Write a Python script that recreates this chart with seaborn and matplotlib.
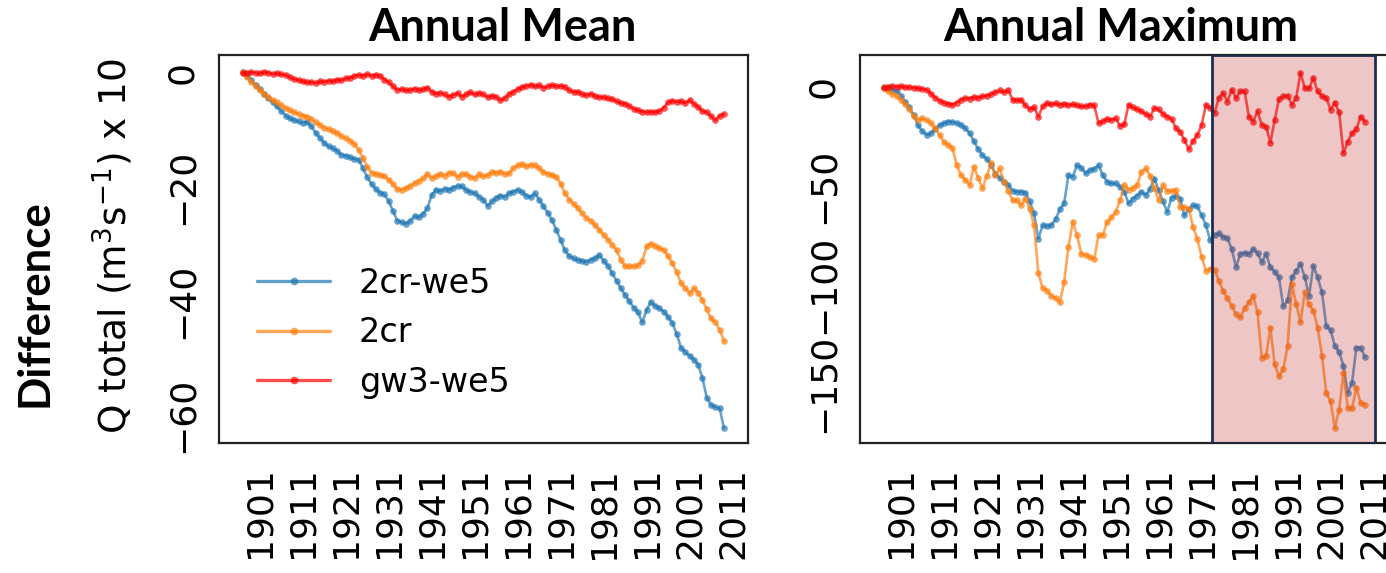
import numpy as np
import pandas as pd
import matplotlib
matplotlib.use("Agg")
import matplotlib.pyplot as plt
import seaborn as sns
from matplotlib.lines import Line2D
from matplotlib.ticker import MultipleLocator

# ---------------- data ----------------
years = list(range(1897, 2010))
series_names = ["2cr-we5", "2cr", "gw3-we5"]
xtick_years = list(range(1901, 2012, 10))

# Annual mean differences
mean_2cr_we5 = [
    0.0, -0.6, -1.4, -2.2, -3.0, -3.8, -4.6, -5.3, -6.0, -6.8,
    -7.6, -8.1, -8.4, -8.6, -8.9, -8.7, -9.5, -10.6, -11.5, -12.4,
    -13.0, -13.3, -13.8, -14.5, -14.6, -14.9, -15.2, -15.3, -16.8, -18.4,
    -19.6, -20.5, -21.1, -21.4, -22.6, -24.3, -26.0, -26.3, -26.5, -26.0,
    -25.2, -25.4, -24.8, -23.8, -21.5, -20.6, -20.8, -20.4, -20.6, -20.2,
    -19.9, -20.0, -20.6, -21.0, -21.2, -21.8, -22.3, -23.4, -22.6, -22.0,
    -21.6, -21.8, -21.2, -20.9, -20.6, -21.0, -21.6, -21.9, -21.2, -22.3,
    -23.5, -24.6, -25.9, -27.6, -29.4, -31.2, -32.2, -32.6, -32.9, -33.0,
    -33.2, -32.8, -32.6, -32.0, -33.0, -33.9, -35.2, -36.5, -37.8, -39.0,
    -40.1, -41.2, -42.0, -43.8, -41.6, -40.2, -40.9, -41.3, -41.9, -42.8,
    -43.9, -45.8, -48.2, -49.0, -49.6, -50.3, -51.2, -53.5, -57.0, -58.2,
    -58.6, -58.8, -62.3,
]
mean_2cr = [
    0.0, -0.8, -1.7, -2.5, -3.2, -3.8, -4.4, -4.9, -5.3, -5.8,
    -6.3, -6.7, -7.0, -7.3, -7.6, -7.8, -8.2, -8.8, -9.3, -9.7,
    -10.0, -10.3, -10.6, -11.2, -11.6, -12.0, -12.6, -13.6, -15.0, -16.6,
    -17.6, -17.8, -18.0, -18.2, -18.8, -19.6, -20.5, -20.6, -20.3, -19.9,
    -19.4, -19.0, -18.6, -17.8, -18.5, -18.2, -17.8, -18.1, -17.6, -17.7,
    -18.3, -17.8, -17.9, -18.3, -18.5, -17.9, -18.2, -18.0, -17.4, -17.6,
    -17.4, -17.8, -17.7, -16.8, -16.3, -16.1, -16.5, -16.2, -16.3, -16.8,
    -17.5, -17.8, -18.0, -18.3, -19.5, -21.2, -22.3, -23.0, -23.8, -24.7,
    -25.5, -26.0, -26.8, -27.6, -28.5, -29.3, -30.2, -31.2, -32.8, -34.0,
    -34.0, -34.0, -33.8, -33.0, -30.5, -30.0, -30.4, -30.8, -31.1, -32.2,
    -33.4, -35.0, -36.9, -37.8, -38.7, -37.8, -38.6, -39.9, -41.5, -43.1,
    -43.8, -45.1, -47.0,
]
mean_gw3_we5 = [
    -0.2, -0.1, 0.0, -0.1, -0.2, 0.0, -0.1, -0.3, -0.2, -0.4,
    -0.5, -0.9, -1.2, -1.4, -1.6, -1.8, -1.7, -1.9, -1.6, -1.7,
    -1.5, -1.6, -1.3, -1.4, -1.1, -1.0, -0.7, -0.5, -0.6, -0.4,
    -0.6, -0.5, -0.6, -1.3, -1.8, -2.5, -3.1, -3.0, -3.2, -3.1,
    -2.9, -3.1, -3.0, -2.7, -3.4, -3.8, -3.6, -3.9, -4.3, -4.0,
    -3.7, -4.3, -3.9, -3.5, -3.9, -3.7, -3.9, -4.4, -4.1, -4.3,
    -4.9, -4.5, -3.9, -3.4, -3.0, -2.6, -2.4, -2.2, -2.5, -2.3,
    -2.7, -2.5, -2.3, -2.5, -2.4, -2.6, -3.2, -3.5, -3.4, -3.8,
    -4.0, -3.8, -4.2, -4.4, -4.4, -4.6, -4.7, -5.1, -5.4, -5.5,
    -5.9, -6.4, -6.7, -6.9, -7.0, -6.9, -7.0, -6.8, -6.2, -5.3,
    -5.0, -5.2, -5.1, -5.4, -4.9, -5.5, -6.1, -6.8, -7.0, -7.7,
    -8.4, -7.6, -7.3,
]

# Annual maximum differences
max_2cr_we5 = [
    0.0, -0.8, -1.5, -2.4, -4.5, -7.5, -10.5, -14.5, -19.5, -22.5,
    -24.4, -23.5, -21.5, -19.5, -18.5, -17.6, -17.8, -18.4, -19.5, -21.0,
    -23.5, -27.5, -31.5, -34.5, -36.5, -39.5, -44.0, -46.0, -48.0, -49.5,
    -52.5, -53.1, -53.0, -53.5, -58.0, -64.0, -76.8, -70.0, -70.5, -70.0,
    -67.0, -62.0, -59.0, -44.7, -45.5, -39.6, -41.0, -43.8, -42.1, -41.5,
    -39.6, -44.7, -48.0, -48.9, -48.9, -50.5, -53.0, -59.0, -56.5, -55.0,
    -53.1, -54.8, -51.5, -46.4, -52.3, -58.0, -63.3, -56.0, -55.0, -56.5,
    -65.0, -62.0, -59.9, -60.5, -65.0, -70.0, -77.7, -75.0, -74.0, -76.0,
    -76.5, -82.0, -91.2, -84.4, -84.0, -84.5, -82.0, -84.0, -88.7, -84.4,
    -91.2, -93.5, -96.3, -111.0, -108.0, -96.3, -93.0, -89.5, -96.3, -105.6,
    -90.4, -96.3, -103.9, -120.8, -123.0, -131.0, -134.0, -141.0, -154.7, -149.6,
    -131.8, -132.0, -136.5,
]
max_2cr = [
    0.0, -2.4, -3.5, -4.8, -6.5, -9.0, -11.5, -15.0, -16.8, -15.9,
    -17.0, -18.4, -21.0, -24.4, -27.8, -29.5, -31.0, -39.6, -44.7, -47.0,
    -49.7, -40.5, -46.0, -51.4, -45.0, -38.7, -44.7, -41.3, -48.1, -52.5,
    -57.4, -57.5, -59.9, -56.5, -61.6, -70.0, -94.3, -101.7, -103.0, -105.6,
    -107.0, -109.0, -98.8, -81.1, -68.4, -75.1, -84.4, -85.0, -86.1, -87.0,
    -75.1, -75.0, -68.4, -66.0, -63.3, -57.4, -49.7, -52.0, -51.0, -49.7,
    -43.0, -41.3, -45.0, -51.4, -57.4, -49.7, -52.5, -52.5, -52.3, -60.8,
    -61.0, -61.6, -70.9, -76.8, -86.1, -92.9, -92.0, -92.5, -98.0, -103.0,
    -107.0, -110.7, -114.9, -116.6, -112.0, -109.0, -105.6, -114.0, -136.9, -136.0,
    -121.7, -140.3, -146.2, -142.8, -131.0, -99.6, -109.8, -119.1, -103.9, -110.0,
    -113.2, -121.7, -136.0, -154.7, -158.9, -172.4, -163.1, -144.5, -162.3, -162.5,
    -152.1, -159.8, -160.6,
]
max_gw3_we5 = [
    -0.7, 0.0, 0.3, 0.0, 0.2, -0.3, -0.2, -0.5, -0.8, -1.2,
    -1.5, -3.5, -5.5, -7.0, -8.0, -8.6, -9.1, -8.0, -6.5, -5.8,
    -6.0, -5.2, -5.5, -4.9, -4.5, -3.8, -2.8, -1.9, -2.8, -1.5,
    -6.6, -6.8, -6.6, -9.5, -11.3, -10.5, -15.1, -10.0, -8.3, -9.0,
    -8.5, -9.1, -8.6, -9.3, -9.0, -9.5, -10.0, -10.0, -9.1, -9.5,
    -18.4, -17.5, -16.2, -16.8, -15.9, -19.8, -19.0, -9.1, -10.5, -11.5,
    -12.5, -13.8, -15.1, -10.8, -11.5, -13.8, -15.1, -16.2, -21.0, -22.7,
    -27.0, -31.5, -27.5, -24.4, -19.3, -9.1, -10.8, -13.4, -5.7, -3.2,
    -7.5, -1.5, -5.7, -2.4, -2.4, -15.1, -17.6, -12.5, -19.3, -20.2,
    -28.3, -16.8, -6.3, -4.9, -4.5, -9.1, -5.7, 7.0, -0.7, -0.8,
    4.4, -2.4, -4.9, -5.5, -11.7, -8.0, -13.0, -33.7, -27.8, -23.5,
    -21.5, -15.1, -17.6,
]

highlight_span = (1973.4, 2011.4)

# ---------------- style ----------------
sns.set_style("white")
plt.rcParams["font.family"] = ["DejaVu Sans"]
plt.rcParams["axes.unicode_minus"] = True
plt.rcParams["text.color"] = "black"
plt.rcParams["axes.labelcolor"] = "black"
plt.rcParams["xtick.color"] = "black"
plt.rcParams["ytick.color"] = "black"

palette = {"2cr-we5": "#1f77b4", "2cr": "#ff7f0e", "gw3-we5": "#ff0000"}
SPINE = "#222222"
TICK_FS = 26

W, H = 1386, 573
fig = plt.figure(figsize=(W / 100, H / 100), dpi=100)
ax1 = fig.add_axes([219 / W, 1 - 443 / H, 529 / W, 388 / H])
ax2 = fig.add_axes([860 / W, 1 - 443 / H, 529 / W, 388 / H])


def long_df(a, b, c):
    frames = []
    for name, vals in zip(series_names, [a, b, c]):
        frames.append(pd.DataFrame({"year": years, "value": vals, "series": name}))
    return pd.concat(frames, ignore_index=True)


df_mean = long_df(mean_2cr_we5, mean_2cr, mean_gw3_we5)
df_max = long_df(max_2cr_we5, max_2cr, max_gw3_we5)

for ax, df in [(ax1, df_mean), (ax2, df_max)]:
    sns.lineplot(data=df, x="year", y="value", hue="series", hue_order=series_names,
                 palette=palette, marker="o", markersize=4.8, markeredgewidth=0,
                 linewidth=1.9, alpha=0.68, legend=False, ax=ax)
    ax.set_xlabel("")
    ax.set_ylabel("")
    ax.set_xlim(1891.5, 2014.6)
    ax.set_xticks(xtick_years)
    ax.set_xticklabels([str(y) for y in xtick_years], rotation=90)
    for s in ax.spines.values():
        s.set_color(SPINE)
        s.set_linewidth(1.6)
    ax.tick_params(axis="both", which="both", direction="in", color=SPINE,
                   labelcolor="black", width=1.5, labelsize=TICK_FS)
    ax.tick_params(axis="x", which="major", length=12, pad=17)
    ax.tick_params(axis="y", which="major", length=12, pad=14, labelrotation=90)
    ax.tick_params(axis="y", which="minor", length=7)
    ax.tick_params(axis="x", which="minor", length=0)

ax1.set_ylim(-64.9, 3.0)
ax1.yaxis.set_major_locator(MultipleLocator(20))
ax1.yaxis.set_minor_locator(MultipleLocator(5))

ax2.set_ylim(-180.0, 16.0)
ax2.yaxis.set_major_locator(MultipleLocator(50))
ax2.yaxis.set_minor_locator(MultipleLocator(10))

for ax in (ax1, ax2):
    for t in ax.get_yticklabels():
        t.set_va("center")

# highlighted period on the maximum panel
ax2.axvspan(highlight_span[0], highlight_span[1], ymin=0, ymax=1,
            facecolor=(0.76, 0.12, 0.12, 0.25), edgecolor="#1b2d55",
            linewidth=2.0, zorder=5)

# legend
handles = [Line2D([0], [0], color=palette[n], marker="o", markersize=5.5,
                  markeredgewidth=0, linewidth=2.4, alpha=0.7) for n in series_names]
ax1.legend(handles, series_names, loc="center left",
           bbox_to_anchor=((257 - 219) / 529, (443 - 333) / 388),
           frameon=False, fontsize=24, handlelength=2.2, handletextpad=0.85,
           labelspacing=0.5, borderpad=0, borderaxespad=0, numpoints=1)

# labels
ax1.set_ylabel("Q total (m$^{3}$s$^{-1}$) x 10", fontsize=27, color="black")
ax1.yaxis.label.set_rotation_mode("default")
ax1.yaxis.label.set_ha("center")
ax1.yaxis.label.set_va("center")
ax1.yaxis.set_label_coords((113 - 219) / 529, (443 - 246) / 388)

fig.text(502 / W, 1 - 28 / H, "Annual Mean", fontsize=32.5, fontweight="bold",
         family=["Lato", "DejaVu Sans"], color="black", ha="center", va="center")
fig.text(1121 / W, 1 - 28 / H, "Annual Maximum", fontsize=32.5, fontweight="bold",
         family=["Lato", "DejaVu Sans"], color="black", ha="center", va="center")
fig.text(35 / W, 1 - 303 / H, "Difference", fontsize=31.5, fontweight="bold",
         family=["Lato", "DejaVu Sans"], color="black", rotation=90,
         ha="center", va="center")

fig.savefig("out.png", dpi=100)
